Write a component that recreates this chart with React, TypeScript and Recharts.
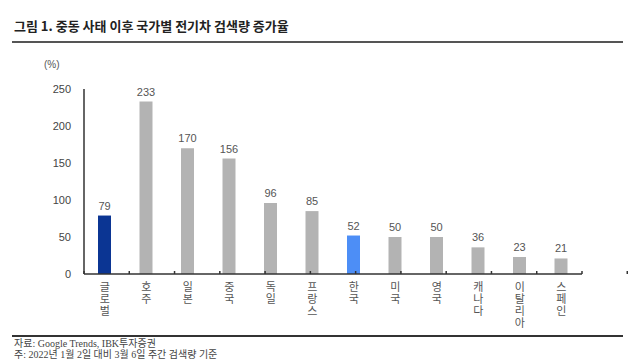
import React from 'react';
import { BarChart, Bar, XAxis, YAxis, Cell, LabelList } from 'recharts';

const countries = ['글로벌', '호주', '일본', '중국', '독일', '프랑스', '한국', '미국', '영국', '캐나다', '이탈리아', '스페인'];
const growth = [79, 233, 170, 156, 96, 85, 52, 50, 50, 36, 23, 21];
const yTicks = [0, 50, 100, 150, 200, 250];
const slotTicks = [0, 1, 2, 3, 4, 5, 6, 7, 8, 9, 10, 11, 12];

const chartData = countries.map((name, i) => ({ name, value: growth[i] }));

const barColor = (name: string) => {
  if (name === '글로벌') return '#0b3593';
  if (name === '한국') return '#4d8ef6';
  return '#b3b3b3';
};

const FONT = '"Liberation Sans", "Noto Sans CJK KR", sans-serif';

// stack each Korean character vertically under the bar
const VerticalTick = (props: any) => {
  const { x, y, payload } = props;
  const chars = String(payload.value).split('');
  return (
    <text x={x} y={y} textAnchor="middle" fontSize={11} fill="#555" fontFamily={FONT}>
      {chars.map((c, i) => (
        <tspan key={i} x={x} dy={i === 0 ? 9 : 12}>
          {c}
        </tspan>
      ))}
    </text>
  );
};

const NoLabel = () => <g />;

export default function App() {
  return (
    <div
      style={{
        position: 'absolute',
        left: 0,
        top: 0,
        width: 640,
        height: 360,
        overflow: 'hidden',
        background: '#fff',
        fontFamily: FONT,
      }}
    >
      <div
        style={{
          position: 'absolute',
          left: 14,
          top: 16,
          fontSize: 13,
          fontWeight: 700,
          color: '#222',
          fontFamily: '"Noto Sans CJK KR", sans-serif',
          whiteSpace: 'nowrap',
        }}
      >
        그림 1. 중동 사태 이후 국가별 전기차 검색량 증가율
      </div>
      <div style={{ position: 'absolute', left: 12, top: 41, width: 611, height: 2, background: '#555' }} />

      <div style={{ position: 'absolute', left: 44, top: 59, fontSize: 10, color: '#555' }}>(%)</div>

      <div style={{ position: 'absolute', left: 0, top: 0 }}>
        <BarChart
          width={640}
          height={360}
          data={chartData}
          margin={{ top: 89, right: 58, left: 30, bottom: 16 }}
        >
          <XAxis
            dataKey="name"
            interval={0}
            axisLine={false}
            tickLine={false}
            height={70}
            tick={<VerticalTick />}
          />
          <XAxis
            xAxisId="slots"
            type="number"
            domain={[0, 12]}
            ticks={slotTicks}
            interval={0}
            mirror
            tick={<NoLabel />}
            tickSize={3}
            axisLine={{ stroke: '#333', strokeWidth: 1.5 }}
            tickLine={{ stroke: '#333', strokeWidth: 1.5 }}
          />
          <YAxis
            domain={[0, 250]}
            ticks={yTicks}
            width={54}
            tickLine={false}
            tickMargin={7}
            axisLine={{ stroke: '#333', strokeWidth: 1.5 }}
            tick={{ fontSize: 11, fill: '#444', fontFamily: FONT }}
          />
          <Bar dataKey="value" barSize={13} isAnimationActive={false}>
            {chartData.map((d, i) => (
              <Cell key={`cell-${i}`} fill={barColor(d.name)} />
            ))}
            <LabelList dataKey="value" position="top" offset={6} fontSize={11} fill="#555" fontFamily={FONT} />
          </Bar>
        </BarChart>
      </div>

      <div style={{ position: 'absolute', left: 12, top: 335, width: 611, height: 1.5, background: '#333' }} />
      <div
        style={{
          position: 'absolute',
          left: 14,
          top: 338,
          fontSize: 10,
          lineHeight: '11px',
          color: '#444',
          fontFamily: '"Liberation Serif", "Noto Sans CJK KR", serif',
          whiteSpace: 'nowrap',
        }}
      >
        <div>자료: Google Trends, IBK투자증권</div>
        <div>주: 2022년 1월 2일 대비 3월 6일 주간 검색량 기준</div>
      </div>
    </div>
  );
}
